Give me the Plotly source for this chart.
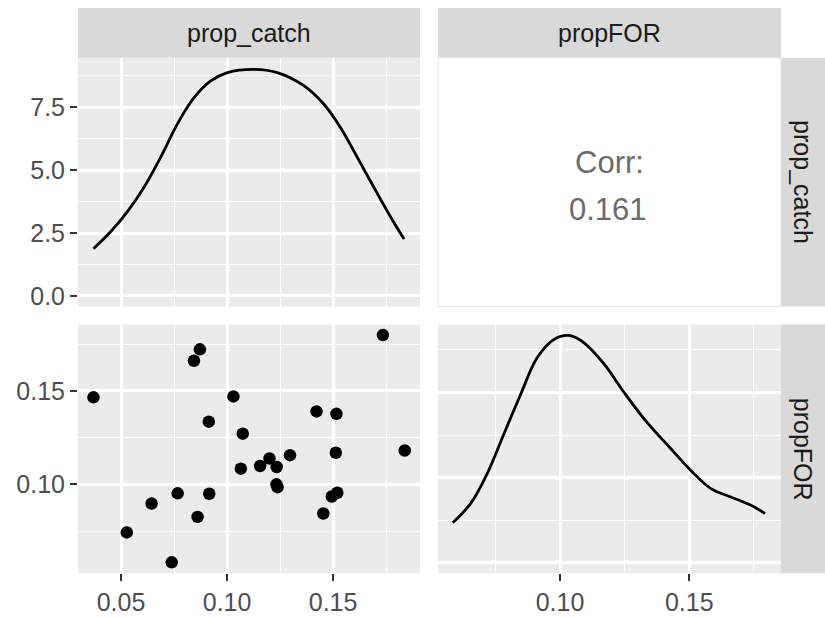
import plotly.graph_objects as go

# ---------------- data ----------------
prop_catch = [0.0370, 0.0527, 0.0644, 0.0739, 0.0767, 0.0844, 0.0872, 0.0861,
              0.0914, 0.0916, 0.1030, 0.1074, 0.1065, 0.1156, 0.1200, 0.1234,
              0.1233, 0.1238, 0.1297, 0.1422, 0.1454, 0.1494, 0.1520, 0.1516,
              0.1513, 0.1735, 0.1838]
propFOR = [0.1465, 0.0743, 0.0897, 0.0583, 0.0952, 0.1661, 0.1722, 0.0826,
           0.1335, 0.0950, 0.1470, 0.1271, 0.1084, 0.1098, 0.1138, 0.1093,
           0.1000, 0.0985, 0.1156, 0.1390, 0.0844, 0.0935, 0.0955, 0.1377,
           0.1169, 0.1798, 0.1181]

# density curve of prop_catch
dens_catch_x = [0.0370, 0.0453, 0.0531, 0.0610, 0.0688, 0.0766, 0.0845, 0.0923,
                0.1002, 0.1127, 0.1237, 0.1362, 0.1456, 0.1534, 0.1613, 0.1691,
                0.1770, 0.1835]
dens_catch_y = [1.88, 2.57, 3.36, 4.34, 5.53, 6.84, 7.89, 8.55,
                8.88, 9.01, 8.88, 8.36, 7.63, 6.71, 5.53, 4.34,
                3.16, 2.26]

# density curve of propFOR
dens_for_x = [0.0585, 0.0654, 0.0718, 0.0783, 0.0848, 0.0912, 0.0977, 0.1035,
              0.1093, 0.1171, 0.1248, 0.1326, 0.1429, 0.1506, 0.1584, 0.1661,
              0.1739, 0.1793]
dens_for_y = [2.34, 3.47, 5.22, 7.56, 9.90, 12.05, 13.12, 13.35,
              12.92, 11.66, 10.00, 8.44, 6.69, 5.42, 4.35, 3.86,
              3.37, 2.89]

corr_label = "Corr:"
corr_value = "0.161"
var_names = ["prop_catch", "propFOR"]

# ---------------- layout helpers ----------------
W, H = 825, 618
FONT = "Liberation Sans, Arial, Helvetica, sans-serif"


def fx(p):
    return p / W


def fy(p):
    return 1 - p / H


xL = [fx(78), fx(420)]
xR = [fx(438), fx(781)]
yT = [fy(308), fy(58)]
yB = [fy(576), fy(326)]

fig = go.Figure()

fig.add_trace(go.Scatter(x=dens_catch_x, y=dens_catch_y, mode="lines",
                         line=dict(color="black", width=2.8, shape="spline"),
                         xaxis="x", yaxis="y", showlegend=False))
fig.add_trace(go.Scatter(x=prop_catch, y=propFOR, mode="markers",
                         marker=dict(color="black", size=12.5),
                         xaxis="x3", yaxis="y3", showlegend=False))
fig.add_trace(go.Scatter(x=dens_for_x, y=dens_for_y, mode="lines",
                         line=dict(color="black", width=2.8, shape="spline"),
                         xaxis="x4", yaxis="y4", showlegend=False))

tickfont = dict(family=FONT, size=25, color="#4D4D4D")


def ax(domain, rng, dtick, minor_dtick, anchor, show_labels=True, ticks="outside", tickvals=None):
    d = dict(domain=domain, range=rng, anchor=anchor,
             showgrid=True, gridcolor="white", gridwidth=2.6,
             zeroline=False, showline=False,
             tick0=0, dtick=dtick,
             minor=dict(showgrid=True, gridcolor="white", gridwidth=1.3,
                        tick0=0, dtick=minor_dtick),
             ticks=ticks if show_labels else "",
             ticklen=7, tickwidth=2, tickcolor="#333333",
             showticklabels=show_labels, tickfont=tickfont,
             fixedrange=True)
    if tickvals is not None:
        d["tickmode"] = "array"
        d["tickvals"] = tickvals
        d["ticktext"] = ["%.2f" % v for v in tickvals]
    return d


xr_catch = [0.0297, 0.1910]
xr_for = [0.0528, 0.1855]

fig.update_layout(
    width=W, height=H,
    margin=dict(l=0, r=0, t=0, b=0),
    paper_bgcolor="white", plot_bgcolor="#EBEBEB",
    xaxis=ax(xL, xr_catch, 0.05, 0.025, "y", show_labels=False),
    yaxis=dict(ax(yT, [-0.42, 9.47], 2.5, 1.25, "x"), tickformat=".1f"),
    xaxis3=ax(xL, xr_catch, 0.05, 0.025, "y3", tickvals=[0.05, 0.10, 0.15]),
    yaxis3=ax(yB, [0.0525, 0.1855], 0.05, 0.025, "x3", tickvals=[0.10, 0.15]),
    xaxis4=ax(xR, xr_for, 0.05, 0.025, "y4", tickvals=[0.10, 0.15]),
    yaxis4=ax(yB, [-0.62, 14.0], 5, 2.5, "x4", show_labels=False),
)

shapes = []
annotations = []
strip_fill = "#D9D9D9"
# top strips
for dom, name in [(xL, var_names[0]), (xR, var_names[1])]:
    shapes.append(dict(type="rect", xref="paper", yref="paper",
                       x0=dom[0], x1=dom[1], y0=fy(58), y1=fy(8),
                       fillcolor=strip_fill, line=dict(width=0), layer="below"))
    annotations.append(dict(xref="paper", yref="paper", x=(dom[0] + dom[1]) / 2, y=fy(33),
                            text=name, showarrow=False, xanchor="center", yanchor="middle",
                            font=dict(family=FONT, size=25, color="#1A1A1A")))
# right strips
for dom, name in [(yT, var_names[0]), (yB, var_names[1])]:
    shapes.append(dict(type="rect", xref="paper", yref="paper",
                       x0=fx(781), x1=fx(825), y0=dom[0], y1=dom[1],
                       fillcolor=strip_fill, line=dict(width=0), layer="below"))
    annotations.append(dict(xref="paper", yref="paper", x=fx(803), y=(dom[0] + dom[1]) / 2,
                            text=name, showarrow=False, xanchor="center", yanchor="middle",
                            textangle=90,
                            font=dict(family=FONT, size=25, color="#1A1A1A")))
# correlation panel border
shapes.append(dict(type="rect", xref="paper", yref="paper",
                   x0=xR[0], x1=xR[1], y0=yT[0], y1=yT[1],
                   fillcolor="white", line=dict(color="#E3E3E3", width=1), layer="below"))
annotations.append(dict(xref="paper", yref="paper", x=fx(609), y=fy(163),
                        text=corr_label, showarrow=False, xanchor="center", yanchor="middle",
                        font=dict(family=FONT, size=31, color="#6B6B6B")))
annotations.append(dict(xref="paper", yref="paper", x=fx(608), y=fy(211),
                        text=corr_value, showarrow=False, xanchor="center", yanchor="middle",
                        font=dict(family=FONT, size=31, color="#6B6B6B")))

fig.update_layout(shapes=shapes, annotations=annotations)

fig.write_html("out.html", config=dict(displayModeBar=False))
